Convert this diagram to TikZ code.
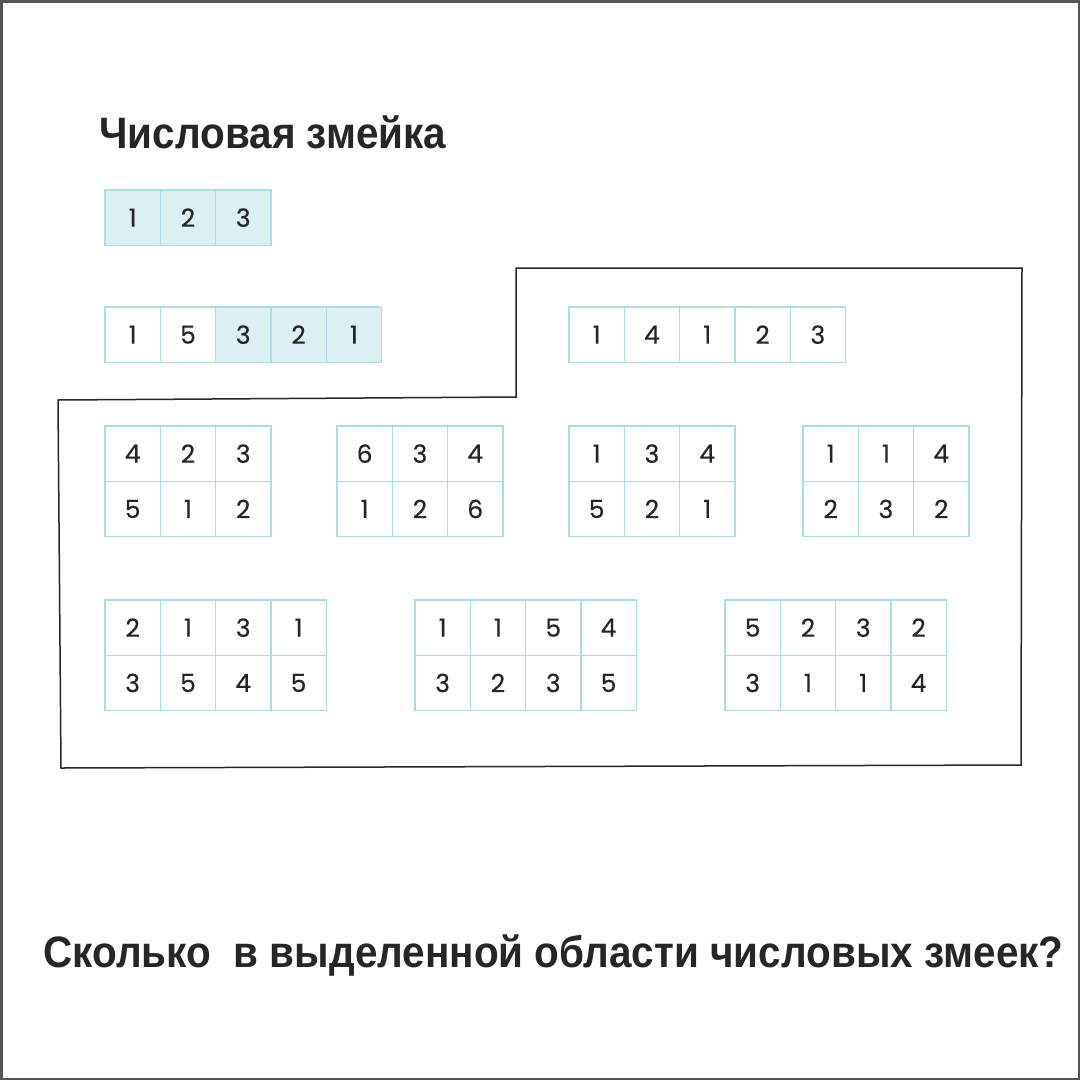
\documentclass[tikz,border=0pt]{standalone}
\usepackage{fontspec}
\setmainfont{Liberation Sans}
\newfontfamily\digitfont[FakeBold=0.4]{Poppins}
\usetikzlibrary{positioning}
\definecolor{gridline}{HTML}{A9DCE5}
\definecolor{snakefill}{HTML}{DCF0F3}
\definecolor{inkdark}{HTML}{262626}
\definecolor{framegray}{HTML}{555555}

% one row of cells: style, name, x, y, numbers
\newcommand{\cellrow}[5]{%
  \foreach \v [count=\i] in {#5}
    \node[#1] (#2-\i) at ({#3+(\i-1)*55.3},#4) {\v};
}

\begin{document}
\begin{tikzpicture}[
		x=1pt, y=-1pt,
		cell/.style={
			rectangle,
			draw=gridline,
			line width=1.2pt,
			minimum size=55.3pt,
			inner sep=0pt,
			outer sep=0pt,
			anchor=north west,
			text=inkdark,
			font=\digitfont\fontsize{25}{25}\selectfont
		},
		marked/.style={
			cell,
			fill=snakefill
		},
		heading/.style={
			anchor=base west,
			text=inkdark,
			font=\bfseries\fontsize{44}{44}\selectfont
		}
		]
		\useasboundingbox (0,0) rectangle (1080,1080);
		\draw [framegray, line width=2.5pt] (1.25,1.25) rectangle (1078.75,1078.75);
		
		% We start with the title and the sample snakes
		\node [heading] (title) at (96,148) {\scalebox{0.92}[1]{Числовая змейка}};
		
		\cellrow{marked}{first}{105}{190}{1,2,3}
		\cellrow{cell}{second}{105}{307}{1,5}
		\cellrow{marked}{secondsnake}{215.6}{307}{3,2,1}
		
		% the marked area
		\draw [inkdark, line width=1.5pt] (516,268) -- (1022,268) -- (1021,765)
			-- (61,768) -- (58,400) -- (516,397) -- cycle;
		
		\cellrow{cell}{strip}{569}{307}{1,4,1,2,3}
		
		\cellrow{cell}{ga}{105}{426}{4,2,3}
		\cellrow{cell}{gb}{105}{481.3}{5,1,2}
		\cellrow{cell}{gc}{337}{426}{6,3,4}
		\cellrow{cell}{gd}{337}{481.3}{1,2,6}
		\cellrow{cell}{ge}{569}{426}{1,3,4}
		\cellrow{cell}{gf}{569}{481.3}{5,2,1}
		\cellrow{cell}{gg}{803}{426}{1,1,4}
		\cellrow{cell}{gh}{803}{481.3}{2,3,2}
		
		\cellrow{cell}{ha}{105}{600}{2,1,3,1}
		\cellrow{cell}{hb}{105}{655.3}{3,5,4,5}
		\cellrow{cell}{hc}{415}{600}{1,1,5,4}
		\cellrow{cell}{hd}{415}{655.3}{3,2,3,5}
		\cellrow{cell}{he}{725}{600}{5,2,3,2}
		\cellrow{cell}{hf}{725}{655.3}{3,1,1,4}
		
		\node [heading] (question) at (40,967)
			{\scalebox{0.92}[1]{Сколько\ \ в выделенной области числовых змеек?}};
		
\end{tikzpicture}
\end{document}
